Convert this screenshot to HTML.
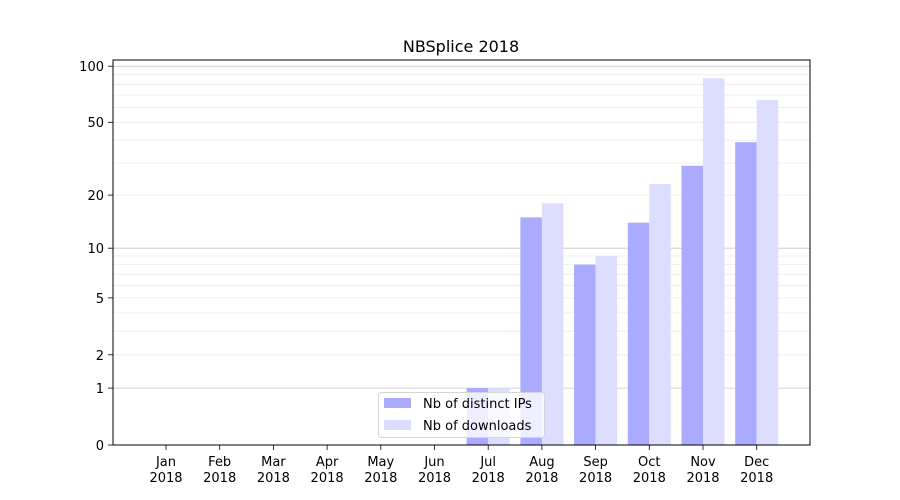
<!DOCTYPE html>
<html><head><meta charset="utf-8"><style>body{margin:0;background:#fff}svg{display:block}text{font-family:"DejaVu Sans","Liberation Sans",sans-serif;fill:#000}</style></head><body>
<svg width="900" height="500" viewBox="0 0 900 500">
<text x="461" y="52" font-size="16" text-anchor="middle">NBSplice 2018</text>
<g stroke="#ececec" stroke-width="0.8">
<line x1="113" x2="810" y1="354.8" y2="354.8"/><line x1="113" x2="810" y1="331.2" y2="331.2"/><line x1="113" x2="810" y1="312.9" y2="312.9"/><line x1="113" x2="810" y1="297.9" y2="297.9"/><line x1="113" x2="810" y1="285.3" y2="285.3"/><line x1="113" x2="810" y1="274.3" y2="274.3"/><line x1="113" x2="810" y1="264.6" y2="264.6"/><line x1="113" x2="810" y1="256" y2="256"/>
<line x1="113" x2="810" y1="195.1" y2="195.1"/><line x1="113" x2="810" y1="163.1" y2="163.1"/><line x1="113" x2="810" y1="140.2" y2="140.2"/><line x1="113" x2="810" y1="122.3" y2="122.3"/><line x1="113" x2="810" y1="107.6" y2="107.6"/><line x1="113" x2="810" y1="95.1" y2="95.1"/><line x1="113" x2="810" y1="84.3" y2="84.3"/><line x1="113" x2="810" y1="74.7" y2="74.7"/>
</g>
<g stroke="#c8c8c8" stroke-width="0.8"><line x1="113" x2="810" y1="388.1" y2="388.1"/><line x1="113" x2="810" y1="248.2" y2="248.2"/><line x1="113" x2="810" y1="66.2" y2="66.2"/></g>
<g fill="#aaaaff">
<rect x="466.7" y="388.1" width="21.5" height="56.9"/>
<rect x="520.4" y="217.4" width="21.5" height="227.6"/>
<rect x="574.1" y="264.6" width="21.5" height="180.4"/>
<rect x="627.8" y="222.7" width="21.5" height="222.3"/>
<rect x="681.5" y="165.8" width="21.5" height="279.2"/>
<rect x="735.2" y="142.2" width="21.5" height="302.8"/>
</g>
<g fill="#ddddff">
<rect x="488.2" y="388.1" width="21.5" height="56.9"/>
<rect x="541.9" y="203.3" width="21.5" height="241.7"/>
<rect x="595.6" y="256" width="21.5" height="189"/>
<rect x="649.3" y="184.1" width="21.5" height="260.9"/>
<rect x="703" y="78.4" width="21.5" height="366.6"/>
<rect x="756.7" y="99.9" width="21.5" height="345.1"/>
</g>
<rect x="113" y="60" width="697" height="385" fill="none" stroke="#000" stroke-width="1"/>
<g stroke="#000" stroke-width="0.8">
<line x1="108" x2="113" y1="445" y2="445"/><line x1="108" x2="113" y1="388.1" y2="388.1"/><line x1="108" x2="113" y1="354.8" y2="354.8"/><line x1="108" x2="113" y1="297.9" y2="297.9"/><line x1="108" x2="113" y1="248.2" y2="248.2"/><line x1="108" x2="113" y1="195.1" y2="195.1"/><line x1="108" x2="113" y1="122.3" y2="122.3"/><line x1="108" x2="113" y1="66.2" y2="66.2"/>
<line x1="166" x2="166" y1="445" y2="450"/><line x1="219.7" x2="219.7" y1="445" y2="450"/><line x1="273.4" x2="273.4" y1="445" y2="450"/><line x1="327.1" x2="327.1" y1="445" y2="450"/><line x1="380.8" x2="380.8" y1="445" y2="450"/><line x1="434.5" x2="434.5" y1="445" y2="450"/><line x1="488.2" x2="488.2" y1="445" y2="450"/><line x1="541.9" x2="541.9" y1="445" y2="450"/><line x1="595.6" x2="595.6" y1="445" y2="450"/><line x1="649.3" x2="649.3" y1="445" y2="450"/><line x1="703" x2="703" y1="445" y2="450"/><line x1="756.7" x2="756.7" y1="445" y2="450"/>
</g>
<g font-size="13" text-anchor="end">
<text x="104" y="450">0</text><text x="104" y="393">1</text><text x="104" y="360">2</text><text x="104" y="303">5</text><text x="104" y="253">10</text><text x="104" y="200">20</text><text x="104" y="127">50</text><text x="104" y="71">100</text>
</g>
<g font-size="13" text-anchor="middle">
<text x="166" y="466">Jan</text><text x="166" y="482">2018</text>
<text x="219.7" y="466">Feb</text><text x="219.7" y="482">2018</text>
<text x="273.4" y="466">Mar</text><text x="273.4" y="482">2018</text>
<text x="327.1" y="466">Apr</text><text x="327.1" y="482">2018</text>
<text x="380.8" y="466">May</text><text x="380.8" y="482">2018</text>
<text x="434.5" y="466">Jun</text><text x="434.5" y="482">2018</text>
<text x="488.2" y="466">Jul</text><text x="488.2" y="482">2018</text>
<text x="541.9" y="466">Aug</text><text x="541.9" y="482">2018</text>
<text x="595.6" y="466">Sep</text><text x="595.6" y="482">2018</text>
<text x="649.3" y="466">Oct</text><text x="649.3" y="482">2018</text>
<text x="703" y="466">Nov</text><text x="703" y="482">2018</text>
<text x="756.7" y="466">Dec</text><text x="756.7" y="482">2018</text>
</g>
<rect x="378.5" y="392.5" width="166" height="45" rx="3" fill="#fff" fill-opacity="0.8" stroke="#d6d6d6"/>
<rect x="384" y="398" width="27" height="10" fill="#aaaaff"/>
<rect x="384" y="420" width="27" height="10" fill="#ddddff"/>
<text x="423" y="408" font-size="13">Nb of distinct IPs</text>
<text x="423" y="430" font-size="13">Nb of downloads</text>
</svg>
</body></html>
